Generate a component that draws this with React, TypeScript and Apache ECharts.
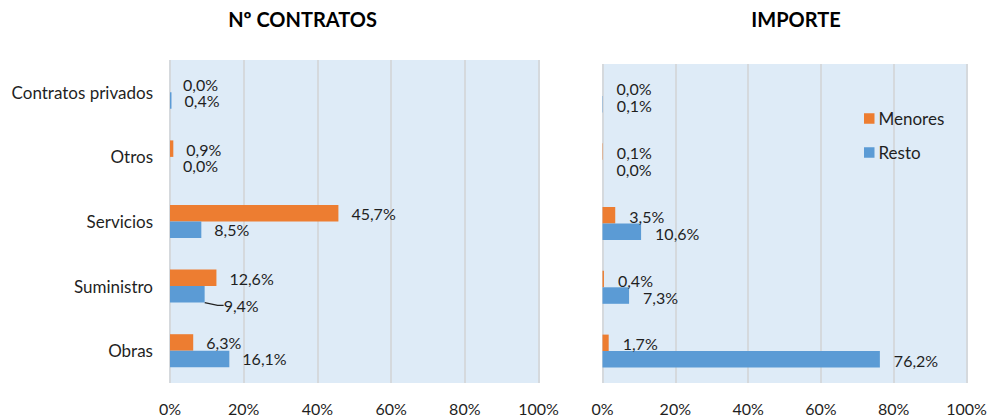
import { useEffect, useRef } from 'react';
import * as echarts from 'echarts';

const categories = ['Obras', 'Suministro', 'Servicios', 'Otros', 'Contratos privados'];
const seriesNames = ['Menores', 'Resto'];
const contratosMenores = [6.3, 12.6, 45.7, 0.9, 0.0];
const contratosResto = [16.1, 9.4, 8.5, 0.0, 0.4];
const importeMenores = [1.7, 0.4, 3.5, 0.1, 0.0];
const importeResto = [76.2, 7.3, 10.6, 0.0, 0.1];
const xTicks = [0, 20, 40, 60, 80, 100];
const titles = ['Nº CONTRATOS', 'IMPORTE'];

const ORANGE = '#ED7D31';
const BLUE = '#5B9BD5';
const FONT = 'Lato, "Open Sans", sans-serif';
const TEXT = '#1f1f1f';

const fmt = (p: any) => Number(p.value).toFixed(1).replace('.', ',') + '%';

export default function App() {
  const ref = useRef<HTMLDivElement>(null);
  useEffect(() => {
    if (!ref.current) return;
    const chart = echarts.init(ref.current, undefined, { renderer: 'svg' });
    const grids = [
      { left: 170, top: 60, width: 368.5, height: 323 },
      { left: 602.5, top: 64, width: 364, height: 319 },
    ];
    const xAxis = grids.map((_, i) => ({
      type: 'value',
      gridIndex: i,
      min: xTicks[0],
      max: xTicks[xTicks.length - 1],
      interval: xTicks[1] - xTicks[0],
      axisLine: { show: false },
      axisTick: { show: false },
      axisLabel: { formatter: '{value}%', fontSize: 16, fontFamily: FONT, color: TEXT, margin: 17 },
      splitLine: { show: true, lineStyle: { color: '#D5D9DD', width: 2 } },
    }));
    const yAxis = grids.map((_, i) => ({
      type: 'category',
      gridIndex: i,
      data: categories,
      axisLine: { show: false },
      axisTick: { show: false },
      axisLabel: { show: i === 0, fontSize: 17, fontFamily: FONT, color: TEXT, margin: 17 },
      splitLine: { show: false },
    }));
    const supIdx = categories.indexOf('Suministro');
    const mk = (
      name: string,
      values: number[],
      color: string,
      gi: number,
      dist: number,
      dy: number,
      moved = -1
    ) => ({
      type: 'bar',
      name,
      xAxisIndex: gi,
      yAxisIndex: gi,
      data: values.map((v, i) =>
        i === moved
          ? { value: v, labelLine: { show: true, length2: 6, lineStyle: { color: '#222', width: 1.2 } } }
          : v
      ),
      barWidth: 16.5,
      barGap: '0%',
      itemStyle: { color },
      label: {
        show: true,
        position: 'right',
        distance: dist,
        offset: [0, dy],
        formatter: fmt,
        fontSize: 16,
        lineHeight: 15,
        fontFamily: FONT,
        color: TEXT,
      },
      labelLine: { show: false },
      labelLayout: moved >= 0 ? (p: any) => (p.dataIndex === moved ? { dx: 6, dy: 11 } : {}) : undefined,
    });
    chart.setOption({
      animation: false,
      grid: grids.map((g) => ({ ...g, show: true, backgroundColor: '#DEEBF7', borderWidth: 0 })),
      xAxis,
      yAxis,
      legend: {
        data: seriesNames,
        orient: 'vertical',
        left: 859,
        top: 105,
        icon: 'rect',
        itemWidth: 10.5,
        itemHeight: 10.5,
        itemGap: 17,
        textStyle: { fontSize: 17, fontFamily: FONT, color: TEXT, padding: [0, 0, 0, -1] },
      },
      graphic: titles.map((t, i) => ({
        type: 'text',
        x: i === 0 ? 302.5 : 796,
        y: 19,
        style: {
          text: t,
          fontSize: 20,
          fontWeight: 'bold',
          fontFamily: FONT,
          fill: '#000',
          textAlign: 'center',
          textVerticalAlign: 'middle',
        },
      })),
      series: [
        mk(seriesNames[0], contratosMenores, ORANGE, 0, 13, 0.5),
        mk(seriesNames[1], contratosResto, BLUE, 0, 13, 1.5, supIdx),
        mk(seriesNames[0], importeMenores, ORANGE, 1, 14, 1),
        mk(seriesNames[1], importeResto, BLUE, 1, 14, 1.5),
      ],
    });
    return () => chart.dispose();
  }, []);
  return (
    <div
      ref={ref}
      style={{ position: 'fixed', left: 0, top: 0, width: 990, height: 420, background: '#fff' }}
    />
  );
}
